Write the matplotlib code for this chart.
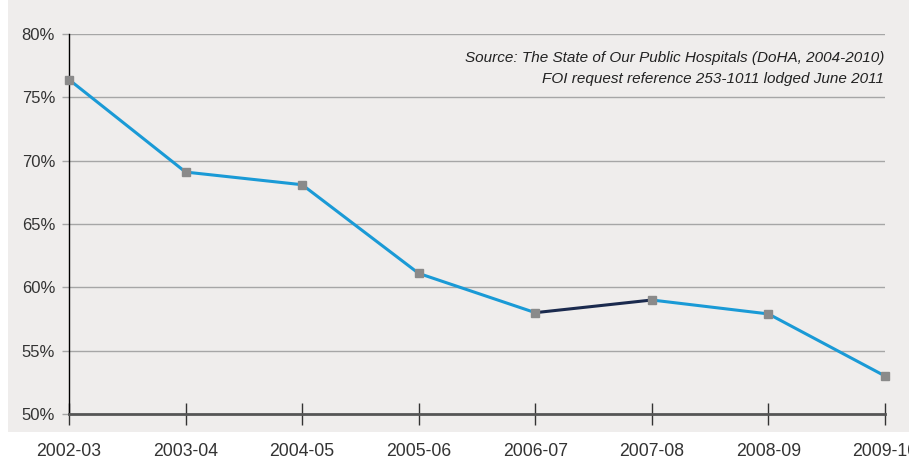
import matplotlib.pyplot as plt
from matplotlib.patches import Rectangle

# Share of patients seen on time, by financial year
years = ['2002-03', '2003-04', '2004-05', '2005-06', '2006-07', '2007-08', '2008-09', '2009-10']
share = [76.4, 69.1, 68.1, 61.1, 58.0, 59.0, 57.9, 53.0]
yticks = [50, 55, 60, 65, 70, 75, 80]

plt.rcParams['font.family'] = ['Liberation Sans', 'DejaVu Sans']
text_col = '#333333'

fig = plt.figure(figsize=(9.09, 4.61), dpi=100)
fig.patch.set_facecolor('white')
fig.patches.append(Rectangle((8 / 909, 29 / 461), 1, 1, transform=fig.transFigure,
                             facecolor='#efedec', edgecolor='none', zorder=-5))

ax = fig.add_axes([69 / 909, 1 - 414 / 461, (885 - 69) / 909, (414 - 34) / 461])
ax.set_facecolor('none')
x = list(range(len(years)))

for y in yticks[1:]:
    ax.axhline(y, color='#a6a6a6', lw=1.0, zorder=1)

blue = '#1a9ad6'
navy = '#1b2a4e'
for i in range(len(x) - 1):
    c = navy if years[i] == '2006-07' else blue
    ax.plot(x[i:i + 2], share[i:i + 2], color=c, lw=2.2, solid_capstyle='butt', zorder=2)
ax.plot(x, share, ls='none', marker='s', ms=6, color='#8a8a8a', zorder=3, clip_on=False)

ax.set_xlim(0, len(years) - 1)
ax.set_ylim(50, 80)
ax.set_yticks(yticks)
ax.set_yticklabels([f'{v}%' for v in yticks])
ax.set_xticks(x)
ax.set_xticklabels(years)

for s in ['top', 'right']:
    ax.spines[s].set_visible(False)
ax.spines['left'].set_color('black')
ax.spines['left'].set_linewidth(1.0)
ax.spines['bottom'].set_color('#555555')
ax.spines['bottom'].set_linewidth(2.0)
ax.spines['bottom'].set_zorder(4)

ax.tick_params(axis='y', length=5, width=1.0, color='#a6a6a6', labelsize=12,
               labelcolor=text_col, pad=5)
ax.tick_params(axis='x', direction='inout', length=16, width=1.0, color='#333333',
               labelsize=12.7, labelcolor=text_col, pad=13)

ax.text(0.999, 0.955, 'Source: The State of Our Public Hospitals (DoHA, 2004-2010)\n'
        'FOI request reference 253-1011 lodged June 2011',
        transform=ax.transAxes, ha='right', va='top', style='italic',
        fontsize=11, color='#222222', linespacing=1.6)

fig.savefig('out.png', dpi=100)
